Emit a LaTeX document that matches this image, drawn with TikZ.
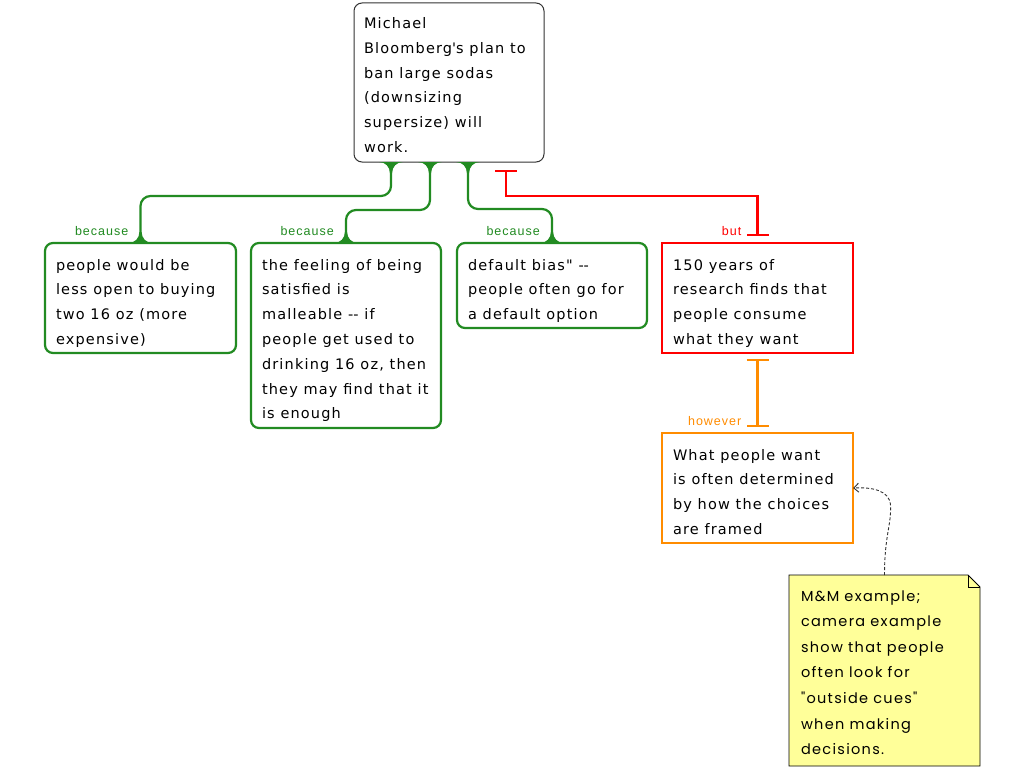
\documentclass[tikz,border=0pt]{standalone}
\usepackage{fontspec}
\newfontfamily\boxfont{DejaVu Sans}[LetterSpace=8]
\newfontfamily\lblfont{Liberation Sans}[LetterSpace=8]
\newfontfamily\notefont{Poppins}[LetterSpace=9]
\usetikzlibrary{calc,arrows.meta}
\definecolor{gr}{RGB}{34,139,34}
\definecolor{rd}{RGB}{255,0,0}
\definecolor{og}{RGB}{255,140,0}
\definecolor{noteyel}{RGB}{255,255,153}
\definecolor{rootline}{RGB}{51,51,51}
\newcommand\firstln{\rule{0pt}{11pt}}
\tikzset{
  box/.style={draw, line width=2.2pt, inner sep=0pt, outer sep=0pt, anchor=north west, fill=white},
  gbox/.style={box, draw=gr, rounded corners=8pt},
  rootbox/.style={box, draw=rootline, line width=1pt, rounded corners=8pt},
  rbox/.style={box, draw=rd},
  obox/.style={box, draw=og},
  txt/.style={inner sep=0pt, outer sep=0pt, anchor=north west, align=left,
    font=\boxfont\fontsize{14.5}{24.8}\selectfont},
  notetxt/.style={inner sep=0pt, outer sep=0pt, anchor=north west, align=left,
    font=\notefont\fontsize{14.5}{25.6}\selectfont},
  lbl/.style={inner sep=0pt, anchor=base east, font=\lblfont\fontsize{12.5}{14}\selectfont},
  gline/.style={draw=gr, line width=2.2pt, rounded corners=10pt},
  rline/.style={draw=rd, line width=2.2pt, {Bar[width=22pt]}-{Bar[width=22pt]}},
  oline/.style={draw=og, line width=2.2pt, {Bar[width=22pt]}-{Bar[width=22pt]}},
  dline/.style={draw=black!80, line width=0.9pt, dashed, dash pattern=on 3pt off 2pt},
  flare/.pic={\fill[gr] (-12,0) .. controls (-5.5,0) and (-1.1,5) .. (-1.1,11) -- (1.1,11) .. controls (1.1,5) and (5.5,0) .. (12,0) -- cycle;}
}
\begin{document}
\begin{tikzpicture}[x=1pt,y=-1pt]
\useasboundingbox[fill=white] (0,0) rectangle (1024,768);

% boxes
\node[rootbox, minimum width=190pt, minimum height=159pt] (root) at (354,3) {};
\node[gbox, minimum width=191pt, minimum height=110pt] (b1) at (45,243) {};
\node[gbox, minimum width=190pt, minimum height=185pt] (b2) at (251,243) {};
\node[gbox, minimum width=190pt, minimum height=85pt] (b3) at (457,243) {};
\node[rbox, minimum width=191pt, minimum height=110pt] (b4) at (662,243) {};
\node[obox, minimum width=191pt, minimum height=110pt] (b5) at (662,433) {};
\node[inner sep=0pt, outer sep=0pt, anchor=north west, minimum width=191pt, minimum height=191pt] (note) at (789,575) {};
\filldraw[fill=noteyel, draw=black, line width=0.9pt]
  (note.north west) -- ($(note.north east)+(-12,0)$) -- ($(note.north east)+(0,12)$)
  -- (note.south east) -- (note.south west) -- cycle;
\draw[black, line width=0.9pt] ($(note.north east)+(-12,0)$) -- ($(note.north east)+(-12,12)$) -- ($(note.north east)+(0,12)$);

% texts
\node[txt] (t0) at ($(root.north west)+(10,14.5)$) {\firstln Michael\\Bloomberg\textquotesingle s plan to\\ban large sodas\\(downsizing\\supersize) will\\work.};
\node[txt] (t1) at ($(b1.north west)+(11,16)$) {\firstln people would be\\less open to buying\\two 16 oz (more\\expensive)};
\node[txt] (t2) at ($(b2.north west)+(11,16)$) {\firstln the feeling of being\\satisfied is\\malleable -\kern0pt- if\\people get used to\\drinking 16 oz, then\\they may find that it\\is enough};
\node[txt] (t3) at ($(b3.north west)+(11,16)$) {\firstln default bias" -\kern0pt-\\people often go for\\a default option};
\node[txt] (t4) at ($(b4.north west)+(11,16)$) {\firstln 150 years of\\research finds that\\people consume\\what they want};
\node[txt] (t5) at ($(b5.north west)+(11,16)$) {\firstln What people want\\is often determined\\by how the choices\\are framed};
\node[notetxt] (t6) at ($(note.north west)+(12,15)$) {\firstln M\&M example;\\camera example\\show that people\\often look for\\"outside cues"\\when making\\decisions.};

% green connectors
\coordinate (r1) at ($(root.south west)+(37,0)$);
\coordinate (r2) at ($(root.south west)+(76,0)$);
\coordinate (r3) at ($(root.south west)+(114,0)$);
\draw[gline] (r1) |- ($(b1.north)+(0,-47)$) -- (b1.north);
\draw[gline] (r2) |- ($(b2.north)+(0,-33)$) -- (b2.north);
\draw[gline] (r3) |- ($(b3.north)+(0,-34)$) -- (b3.north);
\pic at (r1) {flare};
\pic at (r2) {flare};
\pic at (r3) {flare};
\pic[yscale=-1] at (b1.north) {flare};
\pic[yscale=-1] at (b2.north) {flare};
\pic[yscale=-1] at (b3.north) {flare};
\node[lbl, text=gr] (l1) at ($(b1.north)+(-12,-8)$) {because};
\node[lbl, text=gr] (l2) at ($(b2.north)+(-12,-8)$) {because};
\node[lbl, text=gr] (l3) at ($(b3.north)+(-12,-8)$) {because};

% red connector
\coordinate (rr) at ($(root.south west)+(152,8)$);
\draw[rline, rounded corners=0pt] (rr) |- ($(b4.north)+(0,-47)$) -- ($(b4.north)+(0,-7)$);
\node[lbl, text=rd] (l4) at ($(b4.north)+(-16,-8)$) {but};

% orange connector
\draw[oline] ($(b4.south)+(0,6)$) -- ($(b5.north)+(0,-6)$);
\node[lbl, text=og] (l5) at ($(b5.north)+(-16,-8)$) {however};

% dashed note link
\draw[dline, -{Straight Barb[length=5pt,width=9pt]}] (note.north)
  .. controls ($(note.north)+(0,-40)$) and ($(note.north)+(7,-50)$) .. ($(note.north)+(6,-70)$)
  .. controls ($(note.north)+(5,-85)$) and ($(b5.east)+(18,-1)$) .. (b5.east);
\end{tikzpicture}
\end{document}
